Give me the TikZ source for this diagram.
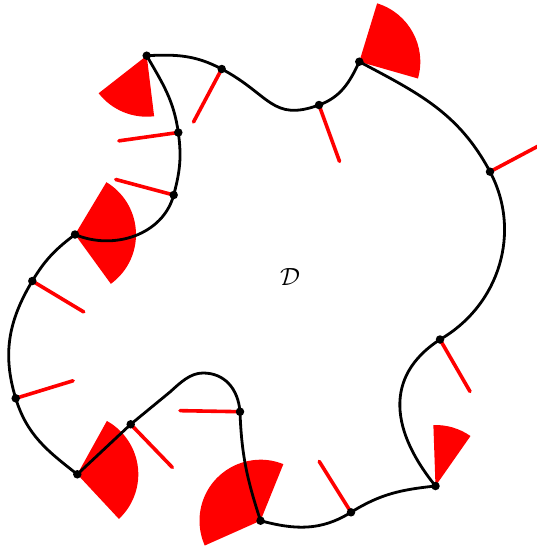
\documentclass[tikz,border=0pt]{standalone}
\begin{document}
\begin{tikzpicture}[x=1pt,y=1pt,
  curve/.style={black,line width=2.8pt},
  normalseg/.style={red,line width=3.6pt,line cap=round},
  sector/.style={fill=red,draw=none},
  vdot/.style={circle,fill=black,inner sep=0pt,minimum size=8.5pt}]
\useasboundingbox (0,-547) rectangle (537,0);
\clip (0,-547) rectangle (537,0);
% vertices
\coordinate (A) at (146.7,-55.7);
\coordinate (B) at (221.7,-69);
\coordinate (C) at (319,-105);
\coordinate (E) at (359.3,-61.7);
\coordinate (F) at (490,-171.7);
\coordinate (G) at (440,-339.5);
\coordinate (H) at (435.5,-486);
\coordinate (I) at (351,-512.3);
\coordinate (J) at (260.5,-520.7);
\coordinate (K) at (240,-411.7);
\coordinate (L) at (130.7,-424.3);
\coordinate (M) at (77.3,-474.3);
\coordinate (N) at (15.7,-398.3);
\coordinate (O) at (32.3,-281);
\coordinate (P) at (75,-234.5);
\coordinate (Q) at (173.7,-195);
\coordinate (R) at (178.3,-132.5);
\coordinate (top) at (203,-373);
\coordinate (bend) at (170,-392);
% sectors (normal cones)
\fill[sector] (A) -- ++(218:61) arc[start angle=218,end angle=277,radius=61] -- cycle;
\fill[sector] (E) -- ++(-16:61) arc[start angle=-16,end angle=73,radius=61] -- cycle;
\fill[sector] (H) -- ++(55:61) arc[start angle=55,end angle=92,radius=61] -- cycle;
\fill[sector] (J) -- ++(68:61) arc[start angle=68,end angle=204,radius=61] -- cycle;
\fill[sector] (M) -- ++(-47:61) arc[start angle=-47,end angle=61,radius=61] -- cycle;
\fill[sector] (P) -- ++(-54:61) arc[start angle=-54,end angle=59,radius=61] -- cycle;
% normal segments
\foreach \v/\a in {B/242,C/-70,F/28,G/-60,I/122,K/179,L/-46,N/17,O/-31,Q/165,R/188}{
  \coordinate (n\v) at ([shift={(\a:60)}]\v);
  \draw[normalseg] (\v) -- (n\v);
}
% boundary curve
\draw[curve] (A) to[out=3,in=152] (B)
  .. controls ([shift={(-28:55)}]B) and ([shift={(200:50)}]C) .. (C)
  to[out=20,in=245] (E)
  to[out=-28,in=118] (F)
  to[out=-62,in=30] (G)
  to[out=213,in=129,looseness=1.2] (H)
  to[out=186,in=32] (I)
  to[out=212,in=-15] (J)
  to[out=108,in=-88] (K)
  .. controls (238,-388) and (224,-373) .. (top)
  .. controls (190,-373) and (180,-383) .. (bend)
  -- (L) -- (M)
  to[out=142,in=-73] (N)
  to[out=107,in=239] (O)
  to[out=59,in=217] (P)
  to[out=-23,in=255] (Q)
  to[out=75,in=278] (R)
  to[out=98,in=300] (A);
% vertex dots
\foreach \v in {A,B,C,E,F,G,H,I,J,K,L,M,N,O,P,Q,R}{
  \node[vdot] (d\v) at (\v) {};
}
\node (lab) at (290,-277) {\fontsize{26}{30}\selectfont$\mathcal{D}$};
\end{tikzpicture}
\end{document}
